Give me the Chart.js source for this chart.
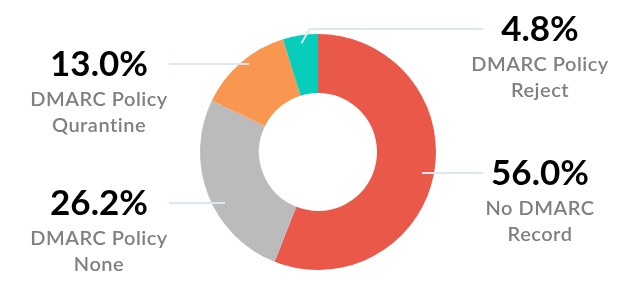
<!DOCTYPE html>
<html>
<head>
<meta charset="utf-8">
<script src="https://cdn.jsdelivr.net/npm/chart.js@4"></script>
<style>
  html, body { margin: 0; padding: 0; background: #fff; }
  #wrap { width: 637px; height: 306px; position: relative; }
</style>
</head>
<body>
<div id="wrap"><canvas id="c" width="637" height="306"></canvas></div>
<script>
// DMARC policy distribution
const categories = ["No DMARC Record", "DMARC Policy None", "DMARC Policy Qurantine", "DMARC Policy Reject"];
const labelLines = [["No DMARC", "Record"], ["DMARC Policy", "None"], ["DMARC Policy", "Qurantine"], ["DMARC Policy", "Reject"]];
const shares = [56.0, 26.2, 13.0, 4.8];
const colors = ["#EA5849", "#BBBBBB", "#F9964F", "#07CDBB"];

// callout placement: side of the ring, vertical offset of the callout from the ring centre
const callouts = [
  { side: "right", dy: 21,   lineFrom: 104, lineTo: 165 },
  { side: "left",  dy: 51,   lineFrom: -93, lineTo: -149 },
  { side: "left",  dy: -88,  lineFrom: -69, lineTo: -149 },
  { side: "right", dy: -123, lineFrom: -10, lineTo: 165, elbow: true }
];

const FONT = "Lato, 'Open Sans', sans-serif";

const calloutPlugin = {
  id: "callouts",
  afterDatasetsDraw(chart) {
    const ctx = chart.ctx;
    const arcs = chart.getDatasetMeta(0).data;
    const cx = arcs[0].x, cy = arcs[0].y;
    const outer = arcs[0].outerRadius;
    ctx.save();
    shares.forEach((v, i) => {
      const c = callouts[i];
      const y = cy + c.dy;
      ctx.strokeStyle = "#DCE6F0";
      ctx.lineWidth = 2;
      ctx.beginPath();
      if (c.elbow) {
        // short diagonal tick from the slice's mid-angle, then horizontal
        const a = (arcs[i].startAngle + arcs[i].endAngle) / 2;
        const r = outer - 8;
        const sx = cx + Math.cos(a) * r, sy = cy + Math.sin(a) * r;
        ctx.moveTo(sx, sy);
        ctx.lineTo(sx + 8, y);
        ctx.lineTo(cx + c.lineTo, y);
      } else {
        ctx.moveTo(cx + c.lineFrom, y);
        ctx.lineTo(cx + c.lineTo, y);
      }
      ctx.stroke();

      const tx = c.side === "left" ? cx - 219 : cx + 222;
      ctx.textAlign = "center";
      ctx.textBaseline = "middle";
      ctx.fillStyle = "#000";
      ctx.letterSpacing = "0px";
      ctx.font = "700 35px " + FONT;
      ctx.fillText(v.toFixed(1) + "%", tx, y + 1);
      ctx.fillStyle = "#808080";
      ctx.font = "600 20px " + FONT;
      ctx.letterSpacing = "0.5px";
      labelLines[i].forEach((t, k) => {
        ctx.fillText(t, tx, y + 36 + k * 26);
      });
    });
    ctx.restore();
  }
};

new Chart(document.getElementById("c"), {
  type: "doughnut",
  data: {
    labels: categories,
    datasets: [{
      data: shares,
      backgroundColor: colors,
      borderWidth: 0,
      hoverOffset: 0
    }]
  },
  options: {
    responsive: false,
    animation: false,
    cutout: "50%",
    layout: { padding: { top: 34, bottom: 36, left: 0, right: 1 } },
    plugins: {
      legend: { display: false },
      tooltip: { enabled: false }
    }
  },
  plugins: [calloutPlugin]
});
</script>
</body>
</html>
